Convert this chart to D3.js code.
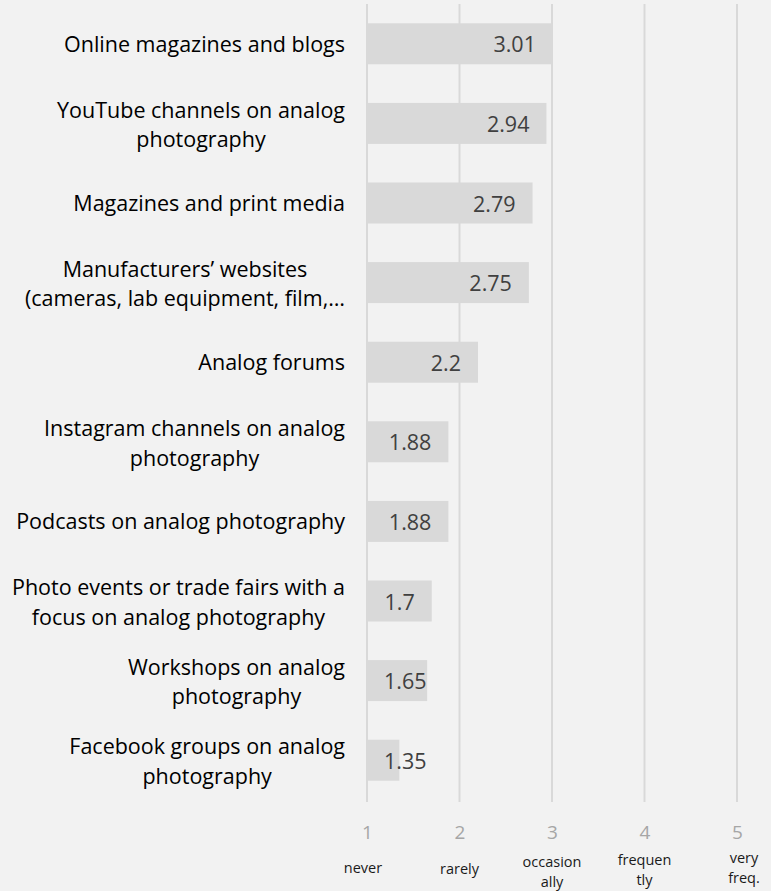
<!DOCTYPE html>
<html>
<head>
<meta charset="utf-8">
<script src="https://cdn.jsdelivr.net/npm/d3@7"></script>
<style>
  html, body { margin: 0; padding: 0; background: #f2f2f2; }
  svg { display: block; }
  text { font-family: "Open Sans", "Noto Sans", sans-serif; }
</style>
</head>
<body>
<svg id="chart" width="771" height="891"></svg>
<script>
// Information sources on analog photography, mean usage frequency (1 = never … 5 = very frequently)
const categories = [
  "Online magazines and blogs",
  "YouTube channels on analog\nphotography",
  "Magazines and print media",
  "Manufacturers’ websites\n(cameras, lab equipment, film,…",
  "Analog forums",
  "Instagram channels on analog\nphotography",
  "Podcasts on analog photography",
  "Photo events or trade fairs with a\nfocus on analog photography",
  "Workshops on analog\nphotography",
  "Facebook groups on analog\nphotography"
];
const values = [3.01, 2.94, 2.79, 2.75, 2.2, 1.88, 1.88, 1.7, 1.65, 1.35];
const tickValues = [1, 2, 3, 4, 5];
const tickWords = ["never", "rarely", "occasion\nally", "frequen\ntly", "very\nfreq."];

const svg = d3.select("#chart");

const x = d3.scaleLinear().domain([1, 5]).range([367, 737]);
const y = d3.scaleBand().domain(categories).range([4, 800])
  .paddingInner(0.485).paddingOuter(0.2425);

// vertical gridlines
svg.append("g").selectAll("line").data(tickValues).join("line")
  .attr("x1", d => x(d)).attr("x2", d => x(d))
  .attr("y1", 4).attr("y2", 802)
  .attr("stroke", "#d9d9d9").attr("stroke-width", 2);

// bars
svg.append("g").selectAll("rect").data(values).join("rect")
  .attr("x", x(1))
  .attr("y", (d, i) => y(categories[i]))
  .attr("width", d => x(d) - x(1))
  .attr("height", y.bandwidth())
  .attr("fill", "#d9d9d9");

// value labels, inside the bar end, pushed right when the bar is too short
const pad = 17;
svg.append("g").selectAll("text").data(values).join("text")
  .text(d => String(d))
  .attr("font-size", 21.5)
  .attr("fill", "#404040")
  .attr("text-anchor", "end")
  .attr("y", (d, i) => y(categories[i]) + y.bandwidth() / 2 + 8.5)
  .attr("x", function (d) {
    const w = this.getComputedTextLength();
    return Math.max(x(d) - pad, x(1) + pad + w);
  });

// category labels: centred lines in a block right-aligned against the axis
const labelRight = 345;
const lineGap = 29.5;
const lab = svg.append("g").selectAll("g").data(categories).join("g");
lab.each(function (c) {
  const g = d3.select(this);
  const lines = c.split("\n");
  const cy = y(c) + y.bandwidth() / 2;
  const texts = lines.map((ln, k) => g.append("text")
    .text(ln)
    .attr("font-size", 21.5)
    .attr("fill", "#000")
    .attr("text-anchor", "middle")
    .attr("y", cy + 8 + (k - (lines.length - 1) / 2) * lineGap + (lines.length > 1 ? 1 : 0)));
  const maxW = d3.max(texts, t => t.node().getComputedTextLength());
  texts.forEach(t => t.attr("x", labelRight - maxW / 2));
});

// x axis numbers
const axis = d3.axisBottom(x).tickValues(tickValues).tickSize(0).tickPadding(0).tickFormat(d3.format("d"));
const ax = svg.append("g").attr("transform", "translate(0,825)").call(axis);
ax.select(".domain").remove();
ax.selectAll("text").attr("font-size", 19).attr("fill", "#a6a6a6")
  .attr("font-family", "\"Open Sans\", sans-serif");

// verbal scale under the numbers
const wordY = [873, 874, 867, 865, 863];
const wordDx = [-4, 0, 0, 0, 7];
svg.append("g").selectAll("text").data(tickWords).join("text")
  .attr("font-size", 14.5)
  .attr("fill", "#1a1a1a")
  .attr("text-anchor", "middle")
  .attr("x", (d, i) => x(tickValues[i]) + wordDx[i])
  .attr("y", (d, i) => wordY[i])
  .each(function (d, i) {
    const parts = d.split("\n");
    d3.select(this).selectAll("tspan").data(parts).join("tspan")
      .attr("x", x(tickValues[i]) + wordDx[i])
      .attr("dy", (p, k) => k === 0 ? 0 : 20)
      .text(p => p);
  });
</script>
</body>
</html>
